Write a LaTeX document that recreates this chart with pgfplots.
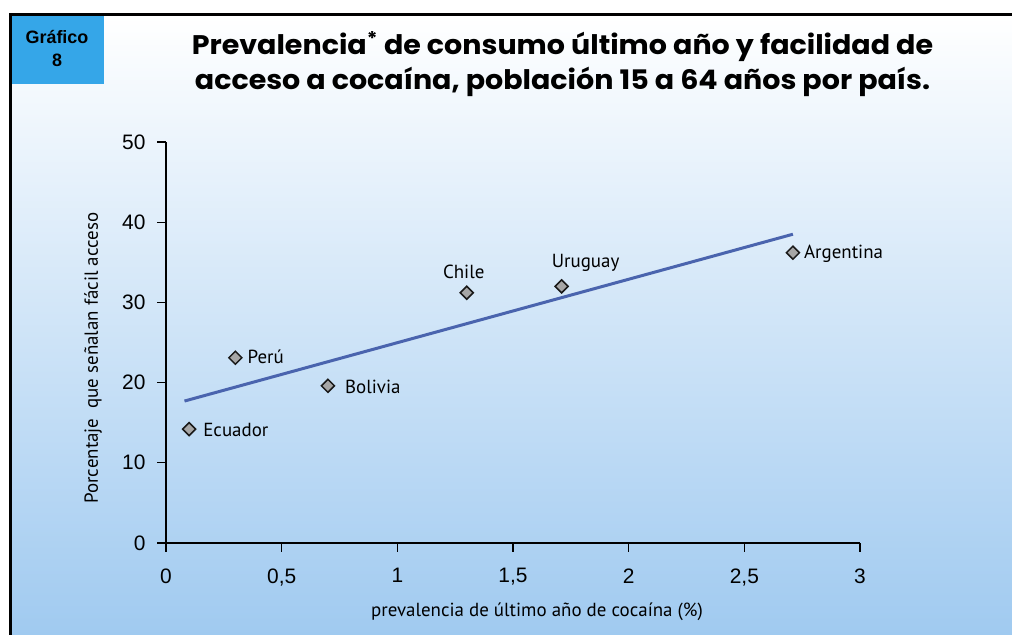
\documentclass[border=0pt]{standalone}
\usepackage{pgfplots}
\pgfplotsset{compat=1.18}
\usepackage{pgfplotstable}
\usepackage{fontspec}
\setmainfont{PT Sans}
\newfontfamily\arialf{Liberation Sans}
\newfontfamily\titlef{Poppins}
\definecolor{boxblue}{RGB}{53,166,232}
\definecolor{bgblue}{RGB}{160,202,240}
\definecolor{lineblue}{RGB}{74,100,174}

\pgfplotstableread{
x y
0.1 14.2
0.3 23.1
0.7 19.6
1.3 31.2
1.71 32.0
2.71 36.2
}\pts

\pgfplotsset{
  lbl/.style n args={4}{draw=none, mark=none, forget plot,
    nodes near coords={#1},
    every node near coord/.style={anchor=#2, xshift=#3, yshift=#4, inner sep=0pt,
      font=\fontsize{19}{22}\selectfont, text=black}},
}

\begin{document}
\begin{tikzpicture}[x=1bp,y=1bp]
\useasboundingbox (0,0) rectangle (1012,635);
\shade[top color=white, bottom color=bgblue] (10,0) rectangle (1012,620);
\fill[boxblue] (10,551) rectangle (104,619);
\draw[line width=3bp] (10,0) -- (10,620) -- (1012,620);
\node[font=\arialf\bfseries\fontsize{18}{23}\selectfont, align=center] at (57,586.5) {Gráfico\\8};
\node[font=\titlef\bfseries\fontsize{27}{35}\selectfont, align=center, xscale=1.06] at (562.5,571)
 {Prevalencia\textsuperscript{*} de consumo último año y facilidad de\\acceso a cocaína, población 15 a 64 años por país.};
\begin{axis}[
  at={(166bp,92bp)}, anchor=south west,
  width=694bp, height=401bp, scale only axis,
  xmin=0, xmax=3, ymin=0, ymax=50,
  axis lines=left,
  axis line style={-, line width=1.3bp},
  xtick={0,0.5,1,1.5,2,2.5,3},
  ytick={0,10,20,30,40,50},
  tick align=outside,
  major tick length=9bp,
  tick style={black, line width=1.3bp},
  clip=false,
  ticklabel style={font=\arialf\fontsize{21}{24}\selectfont},
  xticklabel style={yshift=-13bp},
  yticklabel style={xshift=-8bp},
  /pgf/number format/use comma,
  /pgf/number format/assume math mode=true,
  xlabel={prevalencia de último año de cocaína (\%)},
  xlabel style={font=\fontsize{19}{22}\selectfont, at={(axis description cs:0.5346,0)}, anchor=center, yshift=-69bp},
  ylabel={Porcentaje\ \ que señalan fácil acceso},
  ylabel style={font=\fontsize{19}{22}\selectfont, at={(axis description cs:-0.1052,0.461)}, anchor=center},
]
\addplot[lineblue, line width=3bp] coordinates {(0.08,17.7) (2.71,38.5)};
\addplot[only marks, mark=square*,
  mark options={rotate=45, mark size=4.6bp, fill=gray!70, draw=black!90, line width=1.5bp},
] table[x=x, y=y] {\pts};
\addplot[lbl={Ecuador}{base west}{14bp}{-7bp}] coordinates {(0.1,14.2)};
\addplot[lbl={Perú}{base west}{12bp}{-6bp}] coordinates {(0.3,23.1)};
\addplot[lbl={Bolivia}{base west}{17bp}{-8bp}] coordinates {(0.7,19.6)};
\addplot[lbl={Chile}{base}{-3bp}{14bp}] coordinates {(1.3,31.2)};
\addplot[lbl={Uruguay}{base}{24bp}{19bp}] coordinates {(1.71,32.0)};
\addplot[lbl={Argentina}{base west}{11bp}{-6bp}] coordinates {(2.71,36.2)};
\end{axis}
\end{tikzpicture}
\end{document}
